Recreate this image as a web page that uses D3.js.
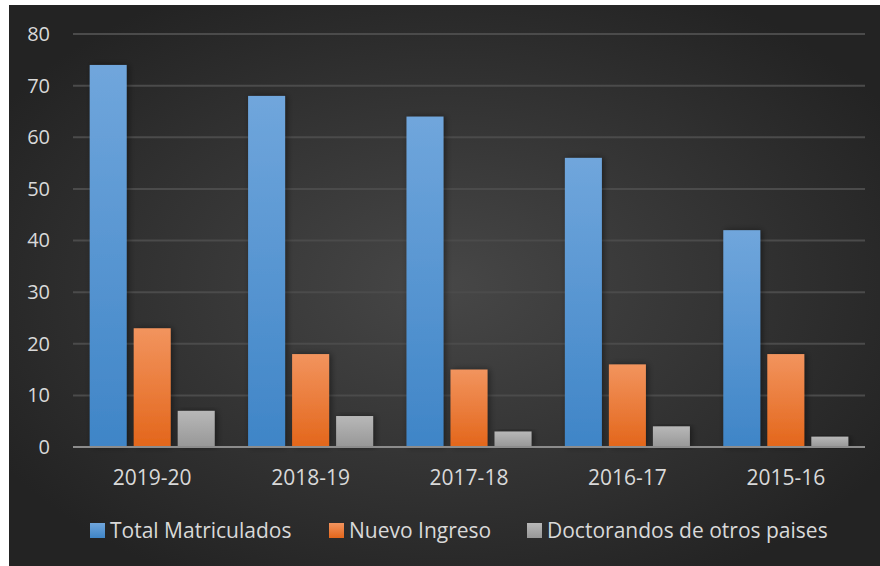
<!DOCTYPE html>
<html lang="es">
<head>
<meta charset="UTF-8">
<script src="https://d3js.org/d3.v7.min.js"></script>
<style>
  body { margin: 0; background: #fff; }
  svg { display: block; }
  text { font-family: "Open Sans", sans-serif; fill: #d9d9d9; }
</style>
</head>
<body>
<div id="chart"></div>
<script>
    // data
    var years = ["2019-20", "2018-19", "2017-18", "2016-17", "2015-16"];
    var totalMatriculados = [74, 68, 64, 56, 42];
    var nuevoIngreso = [23, 18, 15, 16, 18];
    var doctorandosOtros = [7, 6, 3, 4, 2];
    var seriesNames = ["Total Matriculados", "Nuevo Ingreso", "Doctorandos de otros paises"];
    var yTicks = [0, 10, 20, 30, 40, 50, 60, 70, 80];

    var W = 880, H = 566;
    var margin = { top: 34, right: 15, bottom: 119, left: 73 };
    var width = W - margin.left - margin.right,
        height = H - margin.top - margin.bottom;

    var svg = d3.select("#chart").append("svg")
        .attr("width", W)
        .attr("height", H);

    var defs = svg.append("defs");

    // background radial gradient
    var bg = defs.append("radialGradient")
        .attr("id", "bg")
        .attr("cx", "50%").attr("cy", "50%").attr("r", "60%");
    bg.append("stop").attr("offset", "0%").attr("stop-color", "#474747");
    bg.append("stop").attr("offset", "100%").attr("stop-color", "#232323");

    var colors = [
        ["#70a6dc", "#3f85c7"],
        ["#f2945e", "#e3661b"],
        ["#b8b8b8", "#979797"]
    ];
    colors.forEach(function (c, i) {
        var g = defs.append("linearGradient")
            .attr("id", "bar" + i)
            .attr("x1", 0).attr("y1", 0).attr("x2", 0).attr("y2", 1);
        g.append("stop").attr("offset", "0%").attr("stop-color", c[0]);
        g.append("stop").attr("offset", "100%").attr("stop-color", c[1]);
    });

    var shadow = defs.append("filter").attr("id", "shadow")
        .attr("x", "-30%").attr("y", "-10%").attr("width", "160%").attr("height", "120%");
    shadow.append("feDropShadow")
        .attr("dx", 2).attr("dy", 0).attr("stdDeviation", 3)
        .attr("flood-color", "#000").attr("flood-opacity", 0.45);

    svg.append("rect")
        .attr("x", 9).attr("y", 5)
        .attr("width", W - 9).attr("height", H - 5)
        .attr("fill", "url(#bg)");

    var g = svg.append("g")
        .attr("transform", "translate(" + margin.left + "," + margin.top + ")");

    var x0 = d3.scaleBand()
        .domain(years)
        .range([0, width])
        .paddingInner(0)
        .paddingOuter(0);

    var x1 = d3.scaleBand()
        .domain(d3.range(3))
        .range([16.7, x0.bandwidth() - 16.7])
        .paddingInner(0.16)
        .paddingOuter(0);

    var y = d3.scaleLinear()
        .domain([0, 80])
        .range([height, 0]);

    // gridlines
    g.append("g")
        .selectAll("line")
        .data(yTicks.slice(1))
        .enter()
        .append("line")
        .attr("x1", 0).attr("x2", width)
        .attr("y1", function (d) { return y(d); })
        .attr("y2", function (d) { return y(d); })
        .attr("stroke", "#4b4b4b")
        .attr("stroke-width", 2);

    // y axis labels
    var yAxis = d3.axisLeft(y).tickValues(yTicks).tickSize(0).tickPadding(23);
    var ya = g.append("g").call(yAxis);
    ya.select(".domain").remove();
    ya.selectAll("text")
        .attr("font-size", "20px")
        .attr("fill", "#d9d9d9")
        .style("font-family", "'Open Sans', sans-serif");

    // bars
    var table = years.map(function (yr, i) {
        return { year: yr, values: [totalMatriculados[i], nuevoIngreso[i], doctorandosOtros[i]] };
    });

    var groups = g.append("g")
        .selectAll("g")
        .data(table)
        .enter()
        .append("g")
        .attr("transform", function (d) { return "translate(" + x0(d.year) + ",0)"; });

    groups.selectAll("rect")
        .data(function (d) { return d.values.map(function (v, k) { return { k: k, v: v }; }); })
        .enter()
        .append("rect")
        .attr("x", function (d) { return x1(d.k); })
        .attr("y", function (d) { return y(d.v); })
        .attr("width", x1.bandwidth())
        .attr("height", function (d) { return height - y(d.v); })
        .attr("fill", function (d) { return "url(#bar" + d.k + ")"; })
        .attr("filter", "url(#shadow)");

    // zero line
    g.append("line")
        .attr("x1", 0).attr("x2", width)
        .attr("y1", y(0)).attr("y2", y(0))
        .attr("stroke", "#8c8c8c")
        .attr("stroke-width", 2);

    // x axis labels
    var xa = g.append("g")
        .attr("transform", "translate(0," + height + ")")
        .call(d3.axisBottom(x0).tickSize(0).tickPadding(23));
    xa.select(".domain").remove();
    xa.selectAll("text")
        .attr("font-size", "21px")
        .attr("fill", "#d9d9d9")
        .style("font-family", "'Open Sans', sans-serif");

    // legend
    var legendX = [90, 329, 527];
    var legend = svg.append("g");
    seriesNames.forEach(function (name, i) {
        legend.append("rect")
            .attr("x", legendX[i]).attr("y", 523)
            .attr("width", 15).attr("height", 15)
            .attr("fill", "url(#bar" + i + ")");
        legend.append("text")
            .attr("x", legendX[i] + 20).attr("y", 538)
            .attr("font-size", "21px")
            .text(name);
    });
</script>
</body>
</html>
